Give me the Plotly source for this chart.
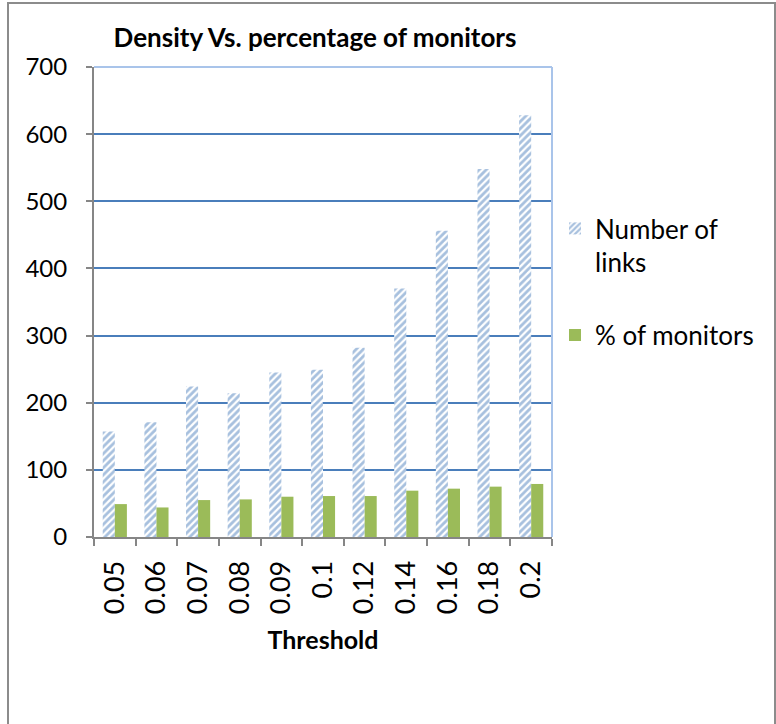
import plotly.graph_objects as go

# -------- DATA --------
thresholds = ["0.05", "0.06", "0.07", "0.08", "0.09", "0.1", "0.12", "0.14", "0.16", "0.18", "0.2"]
num_links = [157, 171, 224, 214, 245, 249, 282, 370, 456, 548, 628]
pct_monitors = [49, 44, 55, 56, 60, 61, 61, 69, 72, 75, 79]

FONT = "Lato"

# plot-area pixel frame (used to convert to paper coords)
L, R, T, B = 94, 552, 67, 537
W, H = 776, 724


def px_x(x):
    return (x - L) / (R - L)


def px_y(y):
    return (B - y) / (B - T)


fig = go.Figure()

fig.add_trace(go.Bar(
    x=thresholds, y=num_links, name="Number of<br>links", legendgroup="a",
    marker=dict(color="white", line=dict(width=0),
                pattern=dict(shape="/", fgcolor="#4f81bd", bgcolor="white",
                             size=5, solidity=0.55))))

fig.add_trace(go.Bar(
    x=thresholds, y=pct_monitors, name="% of monitors", legendgroup="b",
    marker=dict(color="#9bbb59", line=dict(width=0))))

# outer chart border + top/right plot border
shapes = [
    dict(type="rect", xref="paper", yref="paper",
         x0=px_x(8), x1=px_x(775), y0=px_y(740), y1=px_y(3),
         line=dict(color="#8c8c8c", width=2), layer="below"),
    dict(type="line", xref="paper", yref="paper", x0=0, x1=1, y0=1, y1=1,
         line=dict(color="#a9c4ea", width=2)),
    dict(type="line", xref="paper", yref="paper", x0=1, x1=1, y0=0, y1=1,
         line=dict(color="#a9c4ea", width=2)),
]

fig.update_layout(
    width=W, height=H,
    margin=dict(l=L, r=W - R, t=T, b=H - B),
    paper_bgcolor="white", plot_bgcolor="white",
    font=dict(family=FONT, size=24, color="black"),
    title=dict(text="<b>Density Vs. percentage of monitors</b>",
               x=315 / W, xanchor="center", y=1 - 38 / H, yanchor="middle",
               font=dict(size=26, family=FONT)),
    barmode="group", bargap=0.42, bargroupgap=0,
    showlegend=True,
    legend=dict(x=px_x(555), y=px_y(205), xanchor="left", yanchor="top",
                font=dict(size=26), tracegroupgap=36, itemsizing="constant",
                valign="top", bgcolor="rgba(0,0,0,0)"),
    shapes=shapes,
)

fig.update_yaxes(range=[0, 700], dtick=100, showgrid=True, gridcolor="#4a7ebb",
                 gridwidth=2, zeroline=False, showline=True, linecolor="#868686",
                 linewidth=2, ticks="outside", ticklen=6, tickcolor="#868686",
                 tickwidth=2, tickfont=dict(size=24), ticklabelstandoff=14)

fig.update_xaxes(title=dict(text="<b>Threshold</b>", font=dict(size=25), standoff=18),
                 tickangle=-90, showline=True, linecolor="#868686", linewidth=2,
                 ticks="outside", tickson="boundaries", ticklen=7,
                 tickcolor="#868686", tickwidth=2, tickfont=dict(size=27),
                 ticklabelstandoff=11, showgrid=False)

fig.write_html("out.html", config={"displayModeBar": False},
               post_script="document.body.style.margin='0px';")
